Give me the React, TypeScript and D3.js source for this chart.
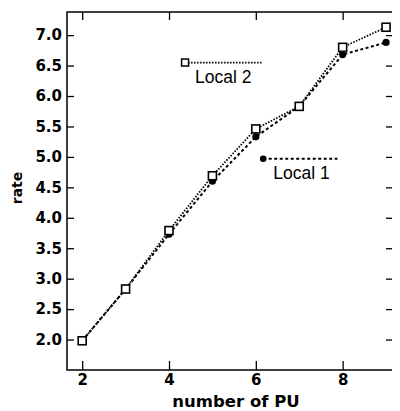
import { useEffect, useRef } from 'react'
import * as d3 from 'd3'

const PU = [2, 3, 4, 5, 6, 7, 8, 9]
const LOCAL1 = [1.98, 2.83, 3.73, 4.6, 5.33, 5.83, 6.68, 6.88]
const LOCAL2 = [1.98, 2.83, 3.79, 4.69, 5.46, 5.83, 6.8, 7.13]
const X_TICKS = [2, 4, 6, 8]
const Y_TICKS = [2.0, 2.5, 3.0, 3.5, 4.0, 4.5, 5.0, 5.5, 6.0, 6.5, 7.0]

const W = 400
const H = 411
const MARGIN = { top: 12, right: 7, bottom: 41, left: 67 }
const BOLD = '"DejaVu Sans", sans-serif'
const FONT = '"Liberation Sans", Arial, sans-serif'

export default function App() {
  const svgRef = useRef<SVGSVGElement>(null)

  useEffect(() => {
    if (!svgRef.current) return
    const iw = W - MARGIN.left - MARGIN.right
    const ih = H - MARGIN.top - MARGIN.bottom

    const x = d3.scaleLinear().domain([1.65, 9.16]).range([0, iw])
    const y = d3.scaleLinear().domain([1.5, 7.38]).range([ih, 0])

    const svg = d3.select(svgRef.current)
    svg.selectAll('*').remove()
    svg.append('rect').attr('width', W).attr('height', H).attr('fill', '#fff')

    const g = svg.append('g').attr('transform', `translate(${MARGIN.left},${MARGIN.top})`)

    // frame
    g.append('rect').attr('width', iw).attr('height', ih)
      .attr('fill', 'none').attr('stroke', '#000').attr('stroke-width', 1.5)

    const styleAxis = (sel: any, labels: boolean) => {
      sel.select('.domain').remove()
      sel.selectAll('.tick line').attr('stroke', '#000').attr('stroke-width', 1.3)
      sel.selectAll('text')
        .attr('fill', '#000').attr('font-family', BOLD).attr('font-weight', 'bold')
        .attr('font-size', 15)
        .style('display', labels ? null : 'none')
    }

    g.append('g').attr('transform', `translate(0,${ih})`)
      .call(d3.axisBottom(x).tickValues(X_TICKS).tickSize(-9).tickPadding(4).tickFormat(d3.format('d')))
      .call(s => styleAxis(s, true))
    g.append('g')
      .call(d3.axisTop(x).tickValues(X_TICKS).tickSize(-8).tickFormat(() => ''))
      .call(s => styleAxis(s, false))
    g.append('g')
      .call(d3.axisLeft(y).tickValues(Y_TICKS).tickSize(-7).tickPadding(5).tickFormat(d3.format('.1f')))
      .call(s => styleAxis(s, true))
    g.append('g').attr('transform', `translate(${iw},0)`)
      .call(d3.axisRight(y).tickValues(Y_TICKS).tickSize(-7).tickFormat(() => ''))
      .call(s => styleAxis(s, false))

    const line = d3.line<number>().x((_, i) => x(PU[i])).y(d => y(d))

    // Local 1: dashed, filled circles
    g.append('path').datum(LOCAL1).attr('d', line)
      .attr('fill', 'none').attr('stroke', '#000').attr('stroke-width', 2)
      .attr('stroke-dasharray', '3,2.5')
    // Local 2: dotted, open squares
    g.append('path').datum(LOCAL2).attr('d', line)
      .attr('fill', 'none').attr('stroke', '#000').attr('stroke-width', 1.8)
      .attr('stroke-dasharray', '1.5,1.5')

    g.selectAll('circle.l1').data(LOCAL1).join('circle').attr('class', 'l1')
      .attr('cx', (_, i) => x(PU[i])).attr('cy', d => y(d)).attr('r', 3.6).attr('fill', '#000')
    g.selectAll('rect.l2').data(LOCAL2).join('rect').attr('class', 'l2')
      .attr('x', (_, i) => x(PU[i]) - 4).attr('y', d => y(d) - 4)
      .attr('width', 8).attr('height', 8)
      .attr('fill', '#fff').attr('stroke', '#000').attr('stroke-width', 1.6)

    // legends
    const legend = (x0: number, x1: number, yv: number, label: string, dash: string, square: boolean) => {
      g.append('line').attr('x1', x(x0)).attr('x2', x(x1)).attr('y1', y(yv)).attr('y2', y(yv))
        .attr('stroke', '#000').attr('stroke-width', 1.8).attr('stroke-dasharray', dash)
      if (square) {
        g.append('rect').attr('x', x(x0) - 3.5).attr('y', y(yv) - 3.5).attr('width', 7).attr('height', 7)
          .attr('fill', '#fff').attr('stroke', '#000').attr('stroke-width', 1.5)
      } else {
        g.append('circle').attr('cx', x(x0)).attr('cy', y(yv)).attr('r', 3.3).attr('fill', '#000')
      }
      g.append('text').attr('x', x(x0) + 10).attr('y', y(yv) + 20)
        .attr('font-family', FONT).attr('font-size', 17.5).attr('fill', '#000').text(label)
    }
    legend(4.37, 6.15, 6.55, 'Local 2', '1.5,1.5', true)
    legend(6.17, 7.88, 4.97, 'Local 1', '3,2.5', false)

    // axis titles
    svg.append('text').attr('x', 236).attr('y', 407)
      .attr('text-anchor', 'middle').attr('font-family', BOLD).attr('font-weight', 'bold')
      .attr('font-size', 16.5).attr('fill', '#000').text('number of PU')
    svg.append('text').attr('transform', `translate(22,188) rotate(-90)`)
      .attr('text-anchor', 'middle').attr('font-family', BOLD).attr('font-weight', 'bold')
      .attr('font-size', 14).attr('fill', '#000').text('rate')
  }, [])

  return (
    <div style={{ margin: -8 }}>
      <svg ref={svgRef} width={W} height={H} />
    </div>
  )
}
